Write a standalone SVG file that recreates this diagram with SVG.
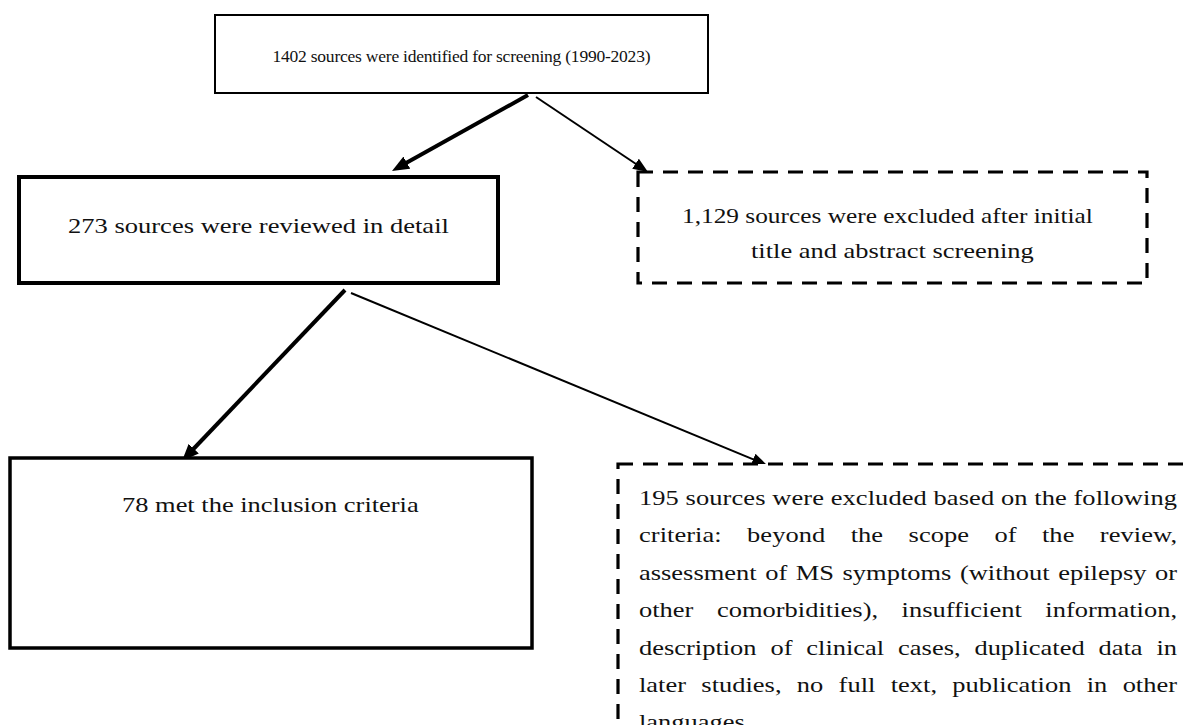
<svg xmlns="http://www.w3.org/2000/svg" width="1187" height="725" viewBox="0 0 1187 725">
<style>
.box{fill:#fff;stroke:#000}
.dash{fill:#fff;stroke:#000;stroke-width:3.2;stroke-dasharray:15 10}
.t{font-family:"Liberation Serif","Times New Roman",serif;fill:#111}
.c{stroke:#000;fill:none}
</style>
<defs>
<marker id="hThick" markerUnits="userSpaceOnUse" markerWidth="17" markerHeight="14" refX="6" refY="7" orient="auto"><path d="M0,0 L17,7 L0,14 z" fill="#000"/></marker>
<marker id="hThin" markerUnits="userSpaceOnUse" markerWidth="15" markerHeight="12" refX="6" refY="6" orient="auto"><path d="M0,0 L15,6 L0,12 z" fill="#000"/></marker>
</defs>
<rect width="1187" height="725" fill="#fff"/>
<g id="connectors">
<line class="c" x1="528" y1="95" x2="401.6" y2="165.6" stroke-width="4" marker-end="url(#hThick)"/>
<line class="c" x1="536" y1="97" x2="640.5" y2="167" stroke-width="2" marker-end="url(#hThin)"/>
<line class="c" x1="345" y1="290" x2="189.6" y2="453.0" stroke-width="4" marker-end="url(#hThick)"/>
<line class="c" x1="351" y1="293" x2="758.7" y2="461.6" stroke-width="2" marker-end="url(#hThin)"/>
</g>
<g id="n-identified">
<rect class="box" x="215" y="15" width="493" height="78" stroke-width="2"/>
<text class="t" x="461.5" y="62" font-size="17.5" text-anchor="middle" textLength="378" lengthAdjust="spacing">1402 sources were identified for screening (1990-2023)</text>
</g>
<g id="n-reviewed">
<rect class="box" x="19" y="177" width="479" height="106" stroke-width="4"/>
<text class="t" transform="translate(68,233) scale(1.264,1)" font-size="21">273 sources were reviewed in detail</text>
</g>
<g id="n-excluded1">
<rect class="dash" x="638" y="172" width="509" height="111"/>
<text class="t" transform="translate(682,223) scale(1.207,1)" font-size="21">1,129 sources were excluded after initial</text>
<text class="t" transform="translate(751,258) scale(1.26,1)" font-size="21">title and abstract screening</text>
</g>
<g id="n-included">
<rect class="box" x="10" y="458" width="522" height="190" stroke-width="3.5"/>
<text class="t" transform="translate(122,512) scale(1.26,1)" font-size="21">78 met the inclusion criteria</text>
</g>
<g id="n-excluded2">
<rect class="dash" x="618" y="464" width="620" height="320"/>
<text class="t" transform="translate(639,505) scale(1.26,1)" font-size="21" textLength="427" lengthAdjust="spacing">195 sources were excluded based on the following</text>
<text class="t" transform="translate(639,542.4) scale(1.26,1)" font-size="21" word-spacing="14.9" textLength="427" lengthAdjust="spacing">criteria: beyond the scope of the review,</text>
<text class="t" transform="translate(639,579.8) scale(1.26,1)" font-size="21" word-spacing="1.5" textLength="427" lengthAdjust="spacing">assessment of MS symptoms (without epilepsy or</text>
<text class="t" transform="translate(639,617.2) scale(1.26,1)" font-size="21" word-spacing="13.4" textLength="427" lengthAdjust="spacing">other comorbidities), insufficient information,</text>
<text class="t" transform="translate(639,654.6) scale(1.26,1)" font-size="21" word-spacing="5.75" textLength="427" lengthAdjust="spacing">description of clinical cases, duplicated data in</text>
<text class="t" transform="translate(639,692) scale(1.26,1)" font-size="21" word-spacing="6.9" textLength="427" lengthAdjust="spacing">later studies, no full text, publication in other</text>
<text class="t" transform="translate(639,729.4) scale(1.26,1)" font-size="21">languages.</text>
</g>
</svg>
